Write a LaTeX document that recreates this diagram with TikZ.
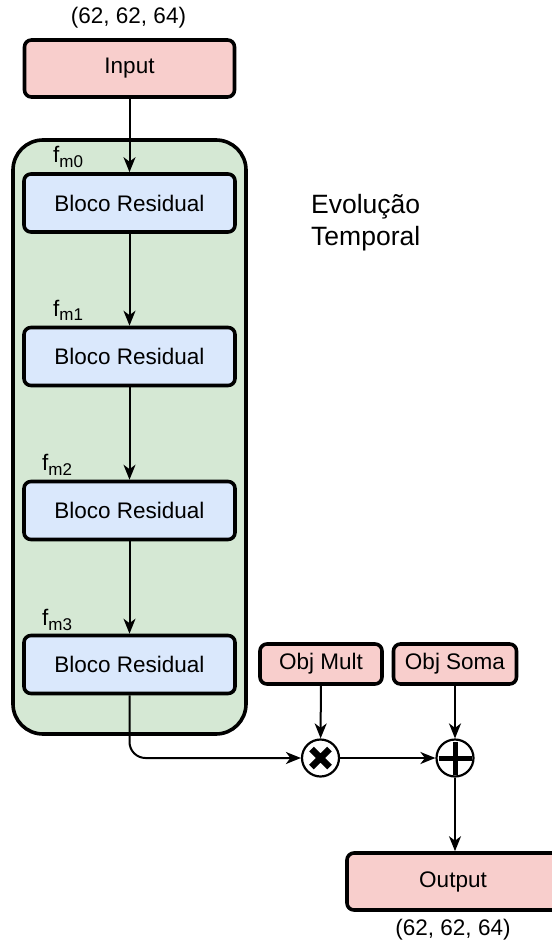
\documentclass[tikz,border=0pt]{standalone}
\usepackage{fontspec}
\setmainfont{Liberation Sans}
\usetikzlibrary{arrows.meta,calc}

\definecolor{inpink}{HTML}{F8CECC}
\definecolor{blockblue}{HTML}{DAE8FC}
\definecolor{groupgreen}{HTML}{D5E8D4}

\newcommand{\fmlabel}[1]{{\fontsize{22.5}{26}\selectfont f}\raisebox{-5pt}{\fontsize{17}{18}\selectfont m#1}}

\tikzset{
  box/.style={draw=black, line width=3.6pt, rounded corners=7pt, inner sep=0pt,
              font=\fontsize{22.5}{26}\selectfont},
  iobox/.style={box, fill=inpink, minimum width=210pt, minimum height=57pt},
  resblock/.style={box, fill=blockblue, minimum width=211pt, minimum height=58pt},
  objbox/.style={box, fill=inpink, minimum height=40pt},
  opcircle/.style={circle, draw=black, line width=2.2pt, fill=white,
                   minimum size=37pt, inner sep=0pt},
  flow/.style={line width=2pt, -{Stealth[length=15pt,width=12pt,inset=4.5pt]}},
  plain/.style={font=\fontsize{22.5}{26}\selectfont, inner sep=0pt},
  fm/.style={anchor=base west, inner sep=0pt},
}

\begin{document}
\begin{tikzpicture}[x=1pt,y=-1pt]
  \useasboundingbox (0,0) rectangle (551,949);

  % group of residual blocks
  \node[draw=black, line width=3.6pt, fill=groupgreen, rounded corners=30pt,
        minimum width=233pt, minimum height=594pt, inner sep=0pt] (group) at (129.5,437) {};

  % input and shape label
  \node[plain] (inshape) at (128.5,18) {(62, 62, 64)};
  \node[iobox] (input) at (129.5,68.5) {Input};

  % residual blocks
  \node[resblock] (b0) at (129.5,203) {Bloco Residual};
  \node[resblock] (b1) at (129.5,356.5) {Bloco Residual};
  \node[resblock] (b2) at (129.5,510.5) {Bloco Residual};
  \node[resblock] (b3) at (129.5,664.5) {Bloco Residual};

  \node[fm] (f0) at (53,163) {\fmlabel{0}};
  \node[fm] (f1) at (53,316) {\fmlabel{1}};
  \node[fm] (f2) at (42,470) {\fmlabel{2}};
  \node[fm] (f3) at (42,625) {\fmlabel{3}};

  % caption of the group
  \node[anchor=base west, inner sep=0pt, align=left,
        font=\fontsize{26.5}{32}\selectfont] (evo) at (311,246) {Evolução\\Temporal};

  % objects combined with the last block
  \node[objbox, minimum width=122pt] (omult) at (321,664) {Obj Mult};
  \node[objbox, minimum width=123pt] (osoma) at (455,664) {Obj Soma};

  % operators
  \node[opcircle] (mult) at (320.5,758) {};
  \node[opcircle] (plus) at (455,758) {};
  \draw[line width=6.5pt] ($(mult.center)+(-9,-9)$) -- ($(mult.center)+(9,9)$)
                          ($(mult.center)+(-9,9)$) -- ($(mult.center)+(9,-9)$);
  \draw[line width=5pt] ($(plus.center)+(-16.5,0)$) -- ($(plus.center)+(16.5,0)$)
                        ($(plus.center)+(0,-16.5)$) -- ($(plus.center)+(0,16.5)$);

  % output and shape label
  \node[iobox, minimum width=212pt] (output) at (453,881.5) {Output};
  \node[plain] (outshape) at (453,930) {(62, 62, 64)};

  % connectors
  \draw[flow] (input) -- (b0);
  \draw[flow] (b0) -- (b1);
  \draw[flow] (b1) -- (b2);
  \draw[flow] (b2) -- (b3);
  \draw[flow, rounded corners=16pt] (b3.south) |- (mult.west);
  \draw[flow] (omult) -- (mult);
  \draw[flow] (osoma) -- (plus);
  \draw[flow] (mult) -- (plus);
  \draw[flow] (plus) -- (plus |- output.north);
\end{tikzpicture}
\end{document}
